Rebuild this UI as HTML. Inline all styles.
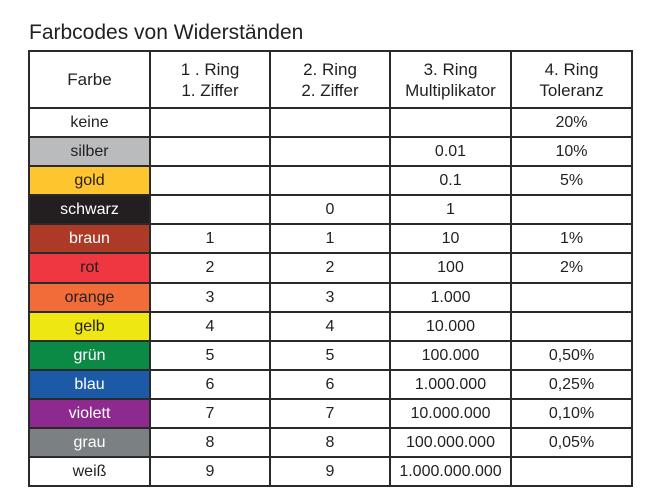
<!DOCTYPE html>
<html><head><style>
body{margin:0;background:#fff;width:662px;height:504px;overflow:hidden;font-family:"Liberation Sans",sans-serif;}
h1{position:absolute;left:29px;top:21px;margin:0;font-weight:normal;font-size:21px;color:#231f20;}
table{position:absolute;left:28px;top:50px;border-collapse:collapse;table-layout:fixed;width:603px;height:437px;}
td{border:2px solid #2a2a2a;padding:0;text-align:center;font-size:16px;color:#231f20;line-height:17px;}
tr{height:29px;}
tr.h{height:57px;}
tr.h td{font-size:17px;line-height:21px;}
.w{color:#fff}
</style></head><body>
<h1>Farbcodes von Widerständen</h1>
<table>
<colgroup><col style="width:121px"><col style="width:120px"><col style="width:120px"><col style="width:121px"><col style="width:121px"></colgroup>
<tr class="h"><td>Farbe</td><td>1 . Ring<br>1. Ziffer</td><td>2. Ring<br>2. Ziffer</td><td>3. Ring<br>Multiplikator</td><td>4. Ring<br>Toleranz</td></tr>
<tr><td>keine</td><td></td><td></td><td></td><td>20%</td></tr>
<tr><td style="background:#b9bbbc">silber</td><td></td><td></td><td>0.01</td><td>10%</td></tr>
<tr><td style="background:#fec52e">gold</td><td></td><td></td><td>0.1</td><td>5%</td></tr>
<tr><td class="w" style="background:#231f20">schwarz</td><td></td><td>0</td><td>1</td><td></td></tr>
<tr><td class="w" style="background:#ac3a26">braun</td><td>1</td><td>1</td><td>10</td><td>1%</td></tr>
<tr><td style="background:#ee3741">rot</td><td>2</td><td>2</td><td>100</td><td>2%</td></tr>
<tr><td style="background:#f26c3a">orange</td><td>3</td><td>3</td><td>1.000</td><td></td></tr>
<tr><td style="background:#efe712">gelb</td><td>4</td><td>4</td><td>10.000</td><td></td></tr>
<tr><td class="w" style="background:#0b8a45">grün</td><td>5</td><td>5</td><td>100.000</td><td>0,50%</td></tr>
<tr><td class="w" style="background:#1c5aa8">blau</td><td>6</td><td>6</td><td>1.000.000</td><td>0,25%</td></tr>
<tr><td class="w" style="background:#8e2a8f">violett</td><td>7</td><td>7</td><td>10.000.000</td><td>0,10%</td></tr>
<tr><td class="w" style="background:#7b8183">grau</td><td>8</td><td>8</td><td>100.000.000</td><td>0,05%</td></tr>
<tr><td>weiß</td><td>9</td><td>9</td><td>1.000.000.000</td><td></td></tr>
</table>
</body></html>
